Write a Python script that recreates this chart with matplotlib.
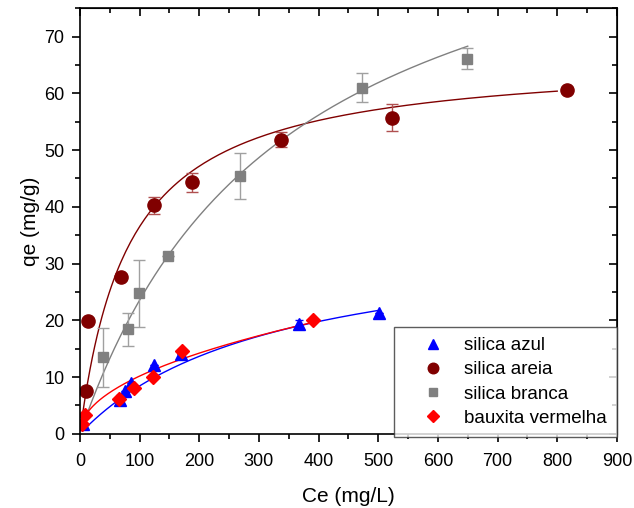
import numpy as np
import matplotlib
matplotlib.use("Agg")
from matplotlib import pyplot as plt
from matplotlib.ticker import MultipleLocator

plt.rcParams['font.family'] = ['Liberation Sans', 'DejaVu Sans']

# silica azul
azul_ce = [5, 67, 75, 86, 124, 170, 367, 502]
azul_qe = [1.7, 6.0, 7.6, 8.9, 12.2, 14.0, 19.3, 21.3]
azul_err = [0, 0.8, 0, 0, 0, 0, 0.8, 0]

# silica areia
areia_ce = [10, 13, 69, 124, 188, 337, 523, 817]
areia_qe = [7.5, 19.8, 27.6, 40.3, 44.3, 51.8, 55.7, 60.6]
areia_err = [0, 0, 0, 1.5, 1.7, 1.3, 2.4, 0]

# silica branca
branca_ce = [38, 80, 99, 147, 268, 472, 648]
branca_qe = [13.5, 18.4, 24.8, 31.3, 45.4, 61.0, 66.1]
branca_err = [5.2, 2.9, 5.9, 0, 4.0, 2.5, 1.8]

# bauxita vermelha
baux_ce = [3, 8, 66, 90, 123, 171, 390]
baux_qe = [1.8, 3.4, 6.2, 8.0, 10.1, 14.6, 20.0]

# fitted isotherm parameters
areia_fit = (66.6, 0.01212)   # Langmuir qm, K
branca_fit = (104.4, 0.00291)
azul_fit = (35.9, 0.00307)
baux_fit = (1.10, 0.483)      # Freundlich Kf, 1/n


def langmuir(c, qm, k):
    return qm * k * c / (1 + k * c)


def freundlich(c, kf, n):
    return kf * c ** n


fig = plt.figure(figsize=(6.34, 5.08), dpi=100)
ax = fig.add_axes([0.126, 0.146, 0.847, 0.838])

c = np.linspace(5, 502, 200)
ax.plot(c, langmuir(c, *azul_fit), color='#0000ff', lw=1)
c = np.linspace(5, 800, 200)
ax.plot(c, langmuir(c, *areia_fit), color='#800000', lw=1)
c = np.linspace(10, 650, 200)
ax.plot(c, langmuir(c, *branca_fit), color='#808080', lw=1)
c = np.linspace(5, 390, 200)
ax.plot(c, freundlich(c, *baux_fit), color='#ff0000', lw=1)

ax.errorbar(areia_ce, areia_qe, yerr=areia_err, fmt='none', ecolor='#b05050',
            capsize=4, elinewidth=1)
ax.errorbar(branca_ce, branca_qe, yerr=branca_err, fmt='none', ecolor='#a0a0a0',
            capsize=4, elinewidth=1)
ax.errorbar(azul_ce, azul_qe, yerr=azul_err, fmt='none', ecolor='#0000ff',
            capsize=3, elinewidth=1)

ax.plot(azul_ce, azul_qe, '^', color='#0000ff', ms=9, ls='none', label='silica azul')
ax.plot(areia_ce, areia_qe, 'o', color='#800000', ms=9.5, ls='none', label='silica areia')
ax.plot(branca_ce, branca_qe, 's', color='#808080', ms=7.5, ls='none', label='silica branca')
ax.plot(baux_ce, baux_qe, 'D', color='#ff0000', ms=7.5, ls='none', label='bauxita vermelha')

ax.set_xlim(0, 900)
ax.set_ylim(0, 75)
ax.xaxis.set_major_locator(MultipleLocator(100))
ax.xaxis.set_minor_locator(MultipleLocator(50))
ax.yaxis.set_major_locator(MultipleLocator(10))
ax.yaxis.set_minor_locator(MultipleLocator(5))
ax.tick_params(which='both', direction='out', top=False, right=False, labelsize=13)
ax.tick_params(which='major', length=6, width=1.2, pad=5)
ax.tick_params(axis='x', which='major', pad=8)
ax.tick_params(which='minor', length=3.5, width=1.2)

# inward ticks on the opposite spines
sec = ax.secondary_xaxis('top')
sec.xaxis.set_major_locator(MultipleLocator(100))
sec.xaxis.set_minor_locator(MultipleLocator(50))
sec.tick_params(which='both', direction='in', labeltop=False, width=1.2)
sec.tick_params(which='major', length=6)
sec.tick_params(which='minor', length=3.5)
sec.set_xticklabels([])
sec2 = ax.secondary_yaxis('right')
sec2.yaxis.set_major_locator(MultipleLocator(10))
sec2.yaxis.set_minor_locator(MultipleLocator(5))
sec2.tick_params(which='both', direction='in', labelright=False, width=1.2)
sec2.tick_params(which='major', length=6)
sec2.tick_params(which='minor', length=3.5)
sec2.set_yticklabels([])

for s in ax.spines.values():
    s.set_linewidth(1.2)

ax.set_xlabel('Ce (mg/L)', fontsize=15, labelpad=12)
ax.set_ylabel('qe (mg/g)', fontsize=15, labelpad=3)

leg = ax.legend(loc='lower right', bbox_to_anchor=(1.0, -0.008), fontsize=13.5,
                frameon=True, fancybox=False, edgecolor='#333333', borderpad=0.55,
                handletextpad=0.1, labelspacing=0.38, borderaxespad=0,
                markerscale=0.8, handlelength=3.1)
leg.get_frame().set_linewidth(1)

fig.savefig('out.png', dpi=100)
